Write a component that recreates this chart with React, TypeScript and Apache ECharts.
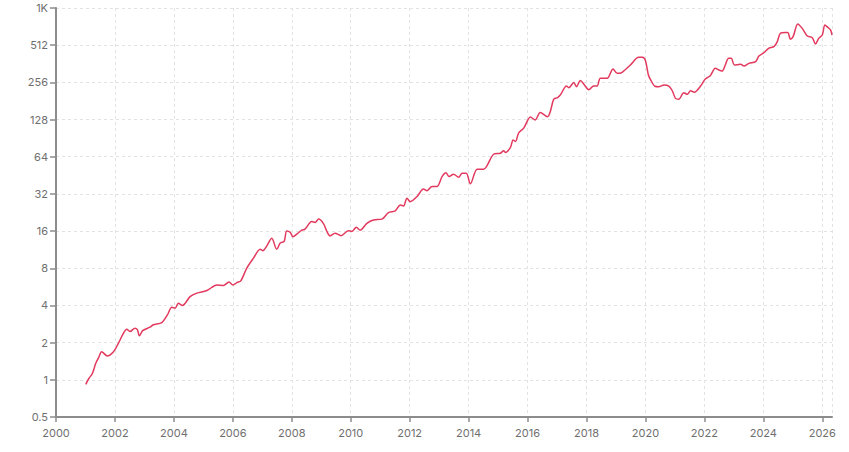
import { useEffect, useRef } from 'react';
import * as echarts from 'echarts';

// decimal year of each reading
const years = [
  2001.01, 2001.12, 2001.23, 2001.35, 2001.45, 2001.55, 2001.74, 2001.95,
  2002.12, 2002.29, 2002.4, 2002.51, 2002.68, 2002.76, 2002.83, 2002.94,
  2003.19, 2003.3, 2003.59, 2003.78, 2003.93, 2004.04, 2004.15, 2004.29,
  2004.55, 2004.78, 2005.12, 2005.46, 2005.68, 2005.87, 2006.0, 2006.14,
  2006.27, 2006.47, 2006.7, 2006.93, 2007.02, 2007.15, 2007.32, 2007.49,
  2007.61, 2007.74, 2007.83, 2007.95, 2008.04, 2008.17, 2008.34, 2008.45,
  2008.68, 2008.79, 2008.91, 2009.08, 2009.19, 2009.3, 2009.47, 2009.67,
  2009.92, 2010.04, 2010.19, 2010.32, 2010.55, 2010.77, 2011.06, 2011.28,
  2011.51, 2011.68, 2011.79, 2011.91, 2012.02, 2012.25, 2012.47, 2012.59,
  2012.76, 2012.93, 2013.1, 2013.23, 2013.34, 2013.49, 2013.66, 2013.78,
  2013.92, 2014.06, 2014.29, 2014.51, 2014.62, 2014.85, 2015.08, 2015.19,
  2015.25, 2015.42, 2015.51, 2015.59, 2015.7, 2015.87, 2016.1, 2016.26,
  2016.43, 2016.68, 2016.77, 2016.89, 2017.02, 2017.11, 2017.32, 2017.4,
  2017.57, 2017.66, 2017.79, 2017.93, 2018.08, 2018.24, 2018.36, 2018.47,
  2018.7, 2018.9, 2019.04, 2019.21, 2019.49, 2019.77, 2019.9, 2020.0,
  2020.1, 2020.2, 2020.32, 2020.45, 2020.63, 2020.79, 2020.91, 2021.02,
  2021.13, 2021.3, 2021.42, 2021.53, 2021.66, 2021.87, 2022.03, 2022.2,
  2022.37, 2022.49, 2022.6, 2022.71, 2022.82, 2022.91, 2023.02, 2023.23,
  2023.34, 2023.51, 2023.74, 2023.85, 2024.02, 2024.19, 2024.36, 2024.47,
  2024.58, 2024.75, 2024.83, 2024.92, 2025.01, 2025.17, 2025.32, 2025.49,
  2025.66, 2025.77, 2025.88, 2026.0, 2026.09, 2026.19, 2026.28, 2026.33,
];

const values = [
  0.92, 1.03, 1.12, 1.36, 1.52, 1.69, 1.56, 1.69,
  1.98, 2.39, 2.57, 2.46, 2.62, 2.55, 2.27, 2.5,
  2.67, 2.79, 2.91, 3.36, 3.86, 3.8, 4.17, 4.0,
  4.72, 5.03, 5.28, 5.87, 5.8, 6.2, 5.87, 6.13,
  6.32, 8.0, 9.66, 11.4, 11.1, 12.1, 14.0, 11.4,
  12.8, 13.2, 16.0, 15.6, 14.4, 15.1, 16.3, 16.6,
  19.1, 18.8, 20.0, 18.3, 15.9, 14.6, 15.4, 14.7,
  16.1, 15.9, 17.2, 16.3, 18.5, 19.7, 20.0, 22.6,
  23.3, 26.0, 25.6, 29.5, 27.7, 30.5, 35.0, 34.0,
  36.8, 36.8, 44.2, 47.5, 44.2, 46.2, 43.7, 47.0,
  47.0, 38.6, 50.7, 50.7, 53.9, 67.0, 68.3, 71.7,
  69.3, 76.3, 87.5, 85.0, 100, 109, 134, 127,
  146, 135, 148, 187, 193, 202, 239, 232,
  255, 236, 265, 244, 223, 239, 239, 276,
  276, 329, 303, 309, 354, 409, 409, 385,
  294, 262, 238, 236, 244, 239, 219, 190,
  187, 211, 205, 219, 213, 239, 272, 290,
  333, 322, 316, 354, 401, 401, 354, 359,
  348, 365, 377, 418, 445, 484, 498, 545,
  639, 648, 648, 572, 600, 760, 700, 608,
  588, 523, 581, 619, 745, 713, 680, 619,
];

const xMin = 2000;
const xMax = 2026.33;
const yMin = 0.5;
const yMax = 1024;

const gridLine = { color: '#e3e3e3', type: [3, 3] as number[], width: 1 };
const axisColor = '#8c8c8c';
const labelColor = '#6f6f6f';

export default function App() {
  const chartRef = useRef<HTMLDivElement>(null);

  useEffect(() => {
    if (!chartRef.current) return;
    const chart = echarts.init(chartRef.current, undefined, { renderer: 'svg' });

    const option: echarts.EChartsOption = {
      animation: false,
      backgroundColor: '#ffffff',
      grid: { left: 56, right: 17, top: 8, bottom: 35 },
      textStyle: { fontFamily: 'Inter, sans-serif' },
      xAxis: {
        type: 'value',
        min: xMin,
        max: xMax,
        interval: 2,
        axisLine: { lineStyle: { color: axisColor, width: 2 } },
        axisTick: { length: 5, lineStyle: { color: axisColor, width: 1.5 } },
        axisLabel: {
          color: labelColor,
          fontSize: 11,
          margin: 10,
          showMaxLabel: false,
          formatter: (v: number) => String(Math.round(v)),
        },
        splitLine: { show: true, lineStyle: gridLine },
      },
      yAxis: {
        type: 'log',
        logBase: 2,
        min: yMin,
        max: yMax,
        interval: 1,
        axisLine: { show: true, lineStyle: { color: axisColor, width: 2 } },
        axisTick: { show: true, length: 6, lineStyle: { color: axisColor, width: 1.5 } },
        axisLabel: {
          color: labelColor,
          fontSize: 11,
          margin: 8,
          formatter: (v: number) => {
            if (v >= 1000) return Math.round(v / 1024) + 'K';
            if (v < 1) return String(Math.round(v * 10) / 10);
            return String(Math.round(v));
          },
        },
        splitLine: { show: true, lineStyle: gridLine },
      },
      series: [
        {
          type: 'line',
          data: years.map((y, i) => [y, values[i]]),
          smooth: 0.3,
          showSymbol: false,
          lineStyle: { color: '#e23a5e', width: 1.5 },
          itemStyle: { color: '#e23a5e' },
        },
      ],
    };

    chart.setOption(option);
    return () => chart.dispose();
  }, []);

  return (
    <div
      ref={chartRef}
      style={{ position: 'absolute', left: 0, top: 0, width: 849, height: 452 }}
    />
  );
}
